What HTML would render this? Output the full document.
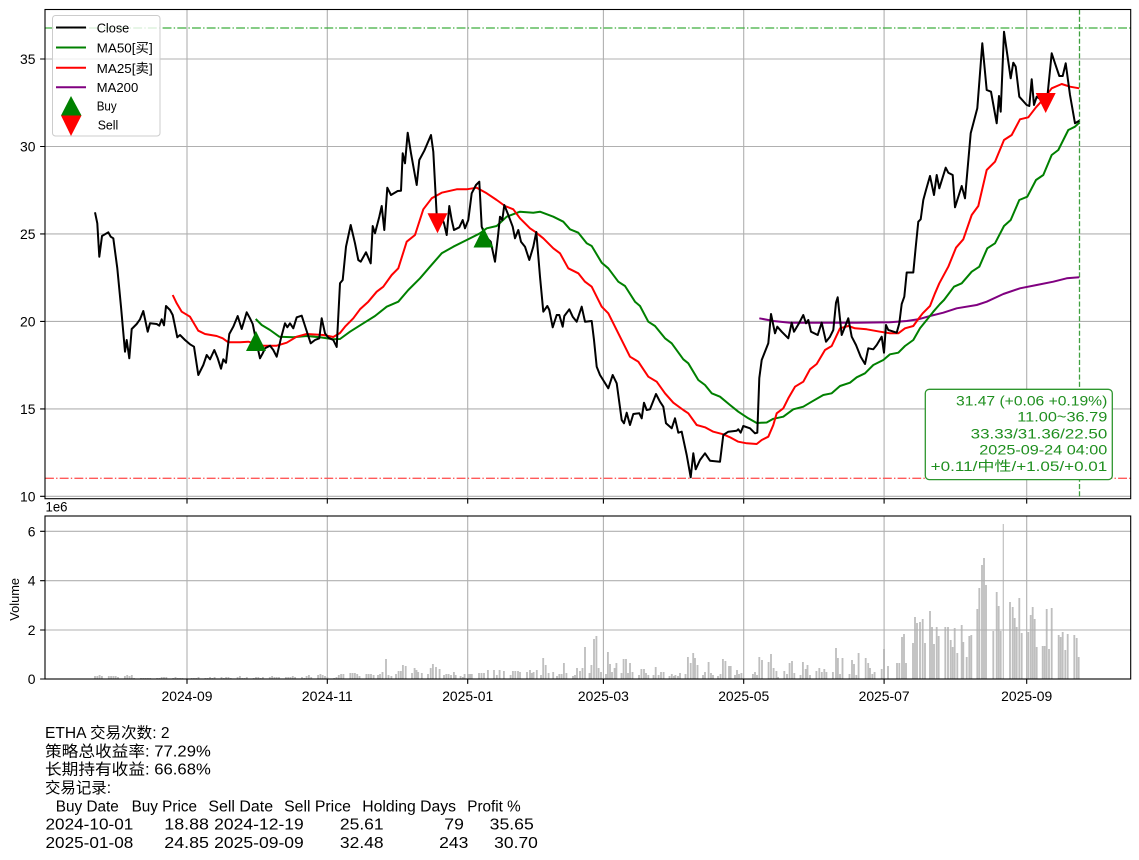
<!DOCTYPE html>
<html><head><meta charset="utf-8"><style>
html,body{margin:0;padding:0;background:#fff;}
svg{display:block;}
text{font-family:"Liberation Sans","Noto Sans CJK SC",sans-serif;fill:#000;}
</style></head><body>
<svg width="1139" height="860" viewBox="0 0 1139 860" xmlns="http://www.w3.org/2000/svg">
<rect width="1139" height="860" fill="#fff"/>

<!-- ===== TOP AXES ===== -->
<g stroke="#b0b0b0" stroke-width="1.1" fill="none">
<path d="M187,9.5V498.7M327.3,9.5V498.7M467.7,9.5V498.7M603.4,9.5V498.7M743.7,9.5V498.7M884.1,9.5V498.7M1026.7,9.5V498.7"/>
<path d="M45,496.3H1130.7M45,408.9H1130.7M45,321.4H1130.7M45,233.9H1130.7M45,146.5H1130.7M45,59H1130.7"/>
</g>

<!-- reference lines -->
<line x1="45" y1="28" x2="1130.7" y2="28" stroke="#3fae3f" stroke-width="1.3" stroke-dasharray="8.9 2.2 1.4 2.2"/>
<line x1="45" y1="478.3" x2="1130.7" y2="478.3" stroke="#ff5a5a" stroke-width="1.3" stroke-dasharray="8.9 2.2 1.4 2.2"/>
<line x1="1079.5" y1="9.5" x2="1079.5" y2="498.7" stroke="#3fa03f" stroke-width="1.3" stroke-dasharray="5.1 2.2"/>

<g fill="none" stroke-width="2" stroke-linejoin="round" stroke-linecap="butt">
<!-- MA200 -->
<polyline stroke="#800080" points="759.3,318.3 773.3,321 790,322.7 823.3,322.7 856.7,322.7 890,322.3 906.7,321 918.3,319.3 930,316 943.3,312.7 956.7,308.3 976.7,305 986.7,301.7 1003.3,294 1020,288.3 1036.7,285 1053.3,281.7 1066.7,278.3 1079.3,277.3"/>
<!-- MA50 -->
<polyline stroke="#008000" points="255.7,319 261.7,325 270,330 279.3,336.7 293.3,337.3 306.7,336 320,337.3 333.3,339.3 340,339 350,331.7 363.3,323.3 375,316 386.7,306.7 398.3,301.7 408.3,290 420,278.3 430,266.7 441.7,253.3 453.3,246.7 466.7,240 480,233.3 486.7,228.3 496.7,226 506.7,216.7 520,211.7 533.3,212.7 540,211.7 553.3,216.7 563.3,221.7 570,229.3 578.3,232.7 586.7,243.3 591.7,246 601.7,262.7 608.3,268.3 618.3,281.7 625,286 635,301.7 640,306 648.3,321.7 655,326 665,338.3 671.7,343.3 683.3,359.3 688.3,363.3 698.3,380 705,385 711.7,393.3 720,396.7 730,405 738.3,411.7 748.3,418.3 756.7,423 766.7,422.5 773.3,418.8 783.3,416.7 793.3,409.3 803.3,406.7 811.7,401.7 823.3,395 831.7,393.3 840,386 850,382.7 856.7,377.3 865,373.3 873.3,365 883.3,360 890,354.3 898.3,352.7 905,346 913.3,340 920,328.3 926.7,320 933.3,311.7 940,304 944,300 954,286.7 961.7,283.3 971.7,271.7 979.3,266.7 987.3,248.3 995,243.3 1004,226 1010.7,220 1019.3,200 1027.3,196.7 1036,180 1043.3,175 1051.7,155 1058.3,150 1068.3,130 1075,126.7 1079.3,122.7"/>
<!-- MA25 -->
<polyline stroke="#ff0000" points="172.7,295 176.7,303.3 181.7,311.7 190,316.7 198.3,330.7 205,334 216.7,336 222.7,338.3 228.3,342.3 240,342.3 248.3,341.7 263.3,345.7 276.7,345.7 286.7,342.7 296.7,336.7 306.7,334 323.3,335 333.3,337 340,333 345,326.7 353.3,318.3 360,309.3 368.3,301.7 376.7,291.7 383.3,286.7 391.7,275 398.3,268.3 406.7,241.7 415,235 423.3,209.3 431.7,198.3 441.7,192.7 456.7,189.3 466.7,189.3 476.7,187.7 486.7,193.3 496.7,200 505,206 513.3,209.3 520,218.3 530,228.3 535,231.7 543.3,238.3 553.3,248.3 560,253.3 568.3,268.3 578.3,273.3 585,281.7 591.7,286.7 601.7,306.7 608.3,313.3 618.3,333.3 630,356.7 638.3,361.7 648.3,376.7 656.7,381.7 665,393.3 673.3,402.7 683.3,410 688.3,413.3 696.7,425 705,427.3 713.3,431.7 723.3,434.3 730,437.3 738.3,441.7 746.7,443.3 756.7,444 761.7,440 768.3,436.7 773.3,425 776.7,413.3 783.3,408.3 788.3,398.3 795,386.7 803.3,381.7 810,369.3 816.7,364 825,350 831.7,346 840,328.3 848.3,326 855,328.3 866.7,329.3 880,331.7 890,333.3 898.3,333.3 905,328.3 913.3,326 918.3,319 922.7,313.3 930,306 935,293.3 939.3,283.3 948.3,266.7 956,247.7 963.3,239.3 971.7,215 978.3,206 986.7,170 995,161.7 1004,140 1011.7,135 1020,119.3 1028.3,117.3 1036,107.3 1043.3,99.3 1051.7,88.3 1061.7,84 1070,86.7 1079.3,88.3"/>
<!-- Close -->
<polyline stroke="#000" points="95,212.3 97.3,223.3 99.3,256.7 102,236 108.3,232.3 110.7,236.7 113.3,238.3 117.3,268.3 121,306.7 125,351.7 126.7,340 129.3,358.3 131.7,329 136.7,324 140,319.3 143.3,311 147.7,331.7 150,323.3 156.7,324 159.3,325.7 161.7,319.3 164,325.3 166,306 170,310 172.7,315 177.3,337.3 180,335 185,340 190,344.3 194,346.7 198.3,375 203.3,365 206.7,355 210,359.3 214.3,350 217.7,358.3 221,368.7 223.3,359.3 226,362.7 229.3,334 233.3,326.7 237.7,316 241.7,329 246.7,312.3 250,318.3 252.7,324 256.7,343.3 260,358.3 262.7,353.3 265,348.3 270,345.7 273.3,350 276.7,356.7 280.7,339.3 285,323.3 287.3,327.3 290,323.3 293.3,328.3 296.7,317.3 301.7,315.7 306,329 310.7,343.3 315,340 319.3,338.3 321.7,318.3 325,333.3 328.3,337.7 333.3,340 336.7,347 340,283.3 342.7,280 346,246.7 350.7,225 355,243.3 358.3,260 360.7,261.7 366,252.3 370.7,263.3 372.7,226 375,233.3 379.3,216.7 381.7,206 384.3,230 387.3,187.7 391,195 397.7,191 401,190.7 402.7,153.3 405,163.3 407.7,132.7 411,153.3 416.7,185 419.3,160 424.3,150.7 431,135 433.3,151.7 436.7,215 438.7,220 440.7,215 444,223.3 446.7,235 449.3,206 451.7,220 454,230 459.3,227.3 462.7,220 465,228.3 468.3,220 471.7,193.3 476,185 479.3,181.7 481.7,226.7 485.7,236.7 490.7,241.7 495,261.7 498.3,233.3 500,216.7 502.3,220 504.3,205 508.3,215 512.7,226.7 515,238.3 518.3,230 521,241.7 525,246.7 529.3,260 533.3,246.7 536.3,232 540,276.7 543.3,311.7 547.3,306 549.3,310 552.7,327.3 556.7,315 559.3,315 562.7,326.7 564.3,316 569.3,309.3 572.7,316.7 576.7,321.7 581.7,306.7 585,321.7 591.7,321 594,340 596.7,366.7 600,375 608.3,388.3 612.7,375 616.7,383.3 621.7,420 624,423.3 626.7,412.7 630,425 633.3,414 639.3,413.3 641.7,418.3 644,402.7 646.7,410 650,409.3 656,394 660,401.7 663.3,406.7 666,423.3 671.7,428.3 675,418.3 678.3,432.7 681.7,431.7 686.7,455 690.7,477.3 693.3,453.3 695.7,469.3 700,460 705,453.3 710,460.7 720,461.7 723.3,435 728.3,431.7 736.7,430.7 738.3,429.3 740.7,432.7 743.3,426 750,428.3 755,433.3 757.3,432.7 759.3,378 761.7,360 768.3,343.3 771,314 775,333.3 777.3,326.7 781.7,331.7 788.3,338.3 791.7,322.7 794,331.7 799.3,322.7 803.3,315 806,323.3 808.3,320 811,331.7 817.7,335 821.7,322.7 826,341.7 830,336.7 833.3,330 836,302.7 837.7,297.3 841.7,335 845,326.7 848.3,318.3 851.7,336.7 856,345 860.7,356.7 865,364 868.3,348.3 873.3,349.3 876.7,345 881.7,336.7 884,352.7 886,325 888.3,330 896.7,332.7 899.3,323.3 901.7,304 904.3,296.7 906.7,272.5 913.3,272.5 915.7,247.3 918.3,221.7 920.7,219.3 923.3,200 926,190 930,176 934,195 936.7,175 939.3,188.3 945.7,167.7 948.3,172.7 952.7,175 955,207.3 961.7,186 965,198.3 970.7,133.3 977.3,108.3 982.3,43.3 986.7,90 991,91.7 996.7,123.3 999,96 1000.7,111.7 1004,31.7 1010.7,78.3 1013.3,62.7 1015.7,66.7 1019.3,96.7 1026.7,105 1029.3,106 1031.7,79.3 1034,105 1036.7,96.7 1041.7,100 1046.7,103.3 1051.7,53.3 1055,63.3 1059.3,76 1062.7,76 1065.7,63.3 1070,95 1075,123.3 1079.3,120.8"/>
</g>

<!-- markers -->
<polygon fill="#008000" points="256,331 246,351 266,351"/>
<polygon fill="#008000" points="483.5,227.5 473.5,247.5 493.5,247.5"/>
<polygon fill="#ff0000" points="427.5,213.3 447.5,213.3 437.5,233.3"/>
<polygon fill="#ff0000" points="1035.7,93 1055.7,93 1045.7,113"/>

<!-- legend -->
<rect x="52.5" y="15.5" width="107.5" height="120.5" rx="3" ry="3" fill="#fff" fill-opacity="0.8" stroke="#cccccc" stroke-width="1"/>
<g stroke-width="2">
<line x1="56" y1="27.5" x2="86" y2="27.5" stroke="#000"/>
<line x1="56" y1="47.5" x2="86" y2="47.5" stroke="#008000"/>
<line x1="56" y1="67.7" x2="86" y2="67.7" stroke="#ff0000"/>
<line x1="56" y1="87.3" x2="86" y2="87.3" stroke="#800080"/>
</g>
<polygon fill="#008000" points="71,96 61,115.5 81.5,115.5"/>
<polygon fill="#ff0000" points="61,115.5 81.5,115.5 71,136"/>
<g font-size="13">
<text x="96.7" y="32.3" textLength="32.6" lengthAdjust="spacingAndGlyphs">Close</text>
<text x="96.7" y="52.4" textLength="56" lengthAdjust="spacingAndGlyphs">MA50[买]</text>
<text x="96.7" y="73" textLength="56" lengthAdjust="spacingAndGlyphs">MA25[卖]</text>
<text x="96.7" y="92.2" textLength="41.6" lengthAdjust="spacingAndGlyphs">MA200</text>
<text x="96.7" y="110.3" textLength="20" lengthAdjust="spacingAndGlyphs">Buy</text>
<text x="97.7" y="129.3" textLength="20.6" lengthAdjust="spacingAndGlyphs">Sell</text>
</g>

<!-- info box -->
<rect x="925.3" y="389.3" width="187" height="90.3" rx="4" ry="4" fill="#fff" stroke="#2e962e" stroke-width="1.3"/>
<g font-size="13.9" style="fill:#1f8f1f">
<text x="956" y="405.7" textLength="151.3" lengthAdjust="spacingAndGlyphs" style="fill:#1f8f1f">31.47 (+0.06 +0.19%)</text>
<text x="1017.3" y="421.7" textLength="90" lengthAdjust="spacingAndGlyphs" style="fill:#1f8f1f">11.00~36.79</text>
<text x="970.7" y="438.3" textLength="136.6" lengthAdjust="spacingAndGlyphs" style="fill:#1f8f1f">33.33/31.36/22.50</text>
<text x="979.3" y="454.3" textLength="128" lengthAdjust="spacingAndGlyphs" style="fill:#1f8f1f">2025-09-24 04:00</text>
<text x="930.7" y="471" textLength="176.6" lengthAdjust="spacingAndGlyphs" style="fill:#1f8f1f">+0.11/中性/+1.05/+0.01</text>
</g>

<!-- top spines & ticks -->
<rect x="45" y="9.5" width="1085.7" height="489.2" fill="none" stroke="#000" stroke-width="1.1"/>
<path d="M187,498.7v4.9M327.3,498.7v4.9M467.7,498.7v4.9M603.4,498.7v4.9M743.7,498.7v4.9M884.1,498.7v4.9M1026.7,498.7v4.9M40.1,496.3H45M40.1,408.9H45M40.1,321.4H45M40.1,233.9H45M40.1,146.5H45M40.1,59H45" stroke="#000" stroke-width="1.1"/>
<g font-size="13.9" text-anchor="end">
<text x="35.5" y="501.3">10</text>
<text x="35.5" y="413.9">15</text>
<text x="35.5" y="326.4">20</text>
<text x="35.5" y="238.9">25</text>
<text x="35.5" y="151.5">30</text>
<text x="35.5" y="64">35</text>
</g>

<!-- ===== VOLUME AXES ===== -->
<path stroke="#bfbfbf" stroke-width="1.84" fill="none" d="M95,679v-3M97.3,679v-3M99.6,679v-4M101.9,679v-3M108.8,679v-3M111.1,679v-3M113.4,679v-3M115.7,679v-3M118,679v-2M124.9,679v-3M127.2,679v-4M129.5,679v-3M131.8,679v-4M134.1,679v-1M141,679v-1M143.3,679v-1M145.6,679v-1M147.9,679v-1M150.2,679v-1M157.1,679v-1M159.4,679v-1M161.7,679v-2M164,679v-2M166.3,679v-2M173.2,679v-1M175.5,679v-2M177.8,679v-1M180.1,679v-1M182.4,679v-1M191.6,679v-1M193.9,679v-1M196.2,679v-1M198.5,679v-2M205.4,679v-1M207.7,679v-1M210,679v-2M212.3,679v-1M214.6,679v-2M221.5,679v-2M223.8,679v-1M226.1,679v-2M228.4,679v-2M230.7,679v-1M237.6,679v-2M239.9,679v-3M242.2,679v-1M244.5,679v-1M246.8,679v-2M253.7,679v-1M256,679v-2M258.3,679v-2M260.6,679v-1M262.9,679v-2M269.8,679v-2M272.1,679v-3M274.4,679v-2M276.7,679v-2M279,679v-2M285.9,679v-2M288.2,679v-2M290.5,679v-2M292.8,679v-3M295.1,679v-2M302,679v-2M304.3,679v-1M306.6,679v-3M308.9,679v-4M311.2,679v-2M318.1,679v-4M320.4,679v-5M322.7,679v-4M325,679v-3M327.3,679v-2M334.2,679v-1M336.5,679v-2M338.8,679v-4M341.1,679v-5M343.4,679v-5M350.3,679v-6M352.6,679v-6M354.9,679v-6M357.2,679v-5M359.5,679v-3M366.4,679v-5M368.7,679v-5M371,679v-5M373.6,679v-4M378,679v-4M380,679v-5M382.5,679v-7M386,679v-20M388.5,679v-4M391.4,679v-3M396,679v-5M398.6,679v-8M400.9,679v-8M402.9,679v-14M405.7,679v-13M412,679v-6M414.6,679v-11M416.5,679v-9M418.2,679v-7M421.8,679v-6M428,679v-5M430.7,679v-11M432.9,679v-15M436,679v-12M439.6,679v-10M444,679v-4M446.3,679v-5M448.6,679v-5M451,679v-4M453.9,679v-7M455.7,679v-4M460.6,679v-3M462.9,679v-2M464.6,679v-5M468,679v-5M470,679v-5M471.8,679v-5M479,679v-6M481.5,679v-6M484,679v-6M487.9,679v-9M494,679v-9M496.8,679v-4M499.6,679v-9M503.9,679v-8M510.6,679v-4M512.9,679v-8M515.3,679v-8M518,679v-8M520,679v-7M527,679v-7M530,679v-9M531.8,679v-6M533.6,679v-7M536.8,679v-9M541,679v-4M543.2,679v-21M545.7,679v-14M548.6,679v-6M553.2,679v-7M557,679v-3M559.3,679v-5M561.6,679v-5M563.9,679v-16M566.4,679v-6M573,679v-3M575,679v-4M577,679v-11M580,679v-8M582.5,679v-11M585,679v-32M589.5,679v-6M591.4,679v-14M594,679v-40M596.4,679v-43M598.6,679v-11M601,679v-7M606,679v-5M607.9,679v-27M610,679v-15M612,679v-7M614.6,679v-11M616.4,679v-16M621.5,679v-6M623.6,679v-20M626,679v-20M628,679v-6M630,679v-16M632.5,679v-7M639,679v-4M641.4,679v-10M644,679v-10M646,679v-6M648.3,679v-4M653.5,679v-4M655.7,679v-12M658.6,679v-4M661,679v-7M663.6,679v-7M669.5,679v-3M671.8,679v-5M674,679v-3M675.4,679v-4M678,679v-3M680,679v-6M685.5,679v-5M687.9,679v-22M690.7,679v-16M693.2,679v-26M695,679v-21M697.5,679v-14M703,679v-4M705,679v-7M708.6,679v-17M711,679v-6M713,679v-4M718,679v-3M720.5,679v-5M722.9,679v-20M725.4,679v-18M729,679v-13M730.7,679v-13M735,679v-4M737,679v-9M739,679v-5M741.4,679v-6M752.9,679v-5M755,679v-7M757,679v-4M759.3,679v-22M762,679v-19M768.6,679v-17M771,679v-25M773.6,679v-11M776.4,679v-8M778,679v-2M784.3,679v-8M787,679v-5M789.6,679v-16M792,679v-18M794.3,679v-6M800.5,679v-4M802.9,679v-17M805.7,679v-10M807.5,679v-14M810,679v-4M816.4,679v-8M819.3,679v-11M821.8,679v-7M824.3,679v-10M826.4,679v-7M832.9,679v-7M836,679v-31M837.9,679v-21M840,679v-5M842.5,679v-21M849.5,679v-5M852,679v-19M854,679v-15M856.3,679v-4M858.6,679v-26M865.7,679v-21M868.2,679v-16M870,679v-11M872.3,679v-5M874.6,679v-7M881.7,679v-10M884,679v-30M888,679v-13M897,679v-16M899.3,679v-16M902,679v-42M904,679v-45M906,679v-16M913,679v-36M915,679v-62M917,679v-56M920,679v-57M922.7,679v-60M925,679v-36M930,679v-68M932,679v-52M934,679v-35M936.7,679v-52M938.7,679v-43M945.3,679v-52M948,679v-52M950.7,679v-39M952.7,679v-32M954.7,679v-51M957.3,679v-26M961.7,679v-54M963.3,679v-37M966.7,679v-22M969.3,679v-43M971.3,679v-44M977.3,679v-70M979.3,679v-91M982,679v-114M984,679v-121M986,679v-94M993.3,679v-48M996.7,679v-87M998.7,679v-73M1000.7,679v-48M1010,679v-77M1012.7,679v-72M1014.7,679v-61M1016.7,679v-52M1019.3,679v-81M1021.7,679v-46M1028.3,679v-47M1030.7,679v-64M1032.7,679v-72M1034.7,679v-60M1036.7,679v-32M1042.7,679v-33M1044.7,679v-33M1046.7,679v-70M1049,679v-30M1051.7,679v-71M1058.7,679v-44M1060.7,679v-42M1062.7,679v-47M1065.3,679v-29M1067.7,679v-45M1074.3,679v-44M1076.7,679v-41M1078.7,679v-22"/>
<line x1="1003.3" y1="679" x2="1003.3" y2="524" stroke="#bfbfbf" stroke-width="1.2"/>

<g stroke="#b0b0b0" stroke-width="1.1" fill="none">
<path d="M187,516V679M327.3,516V679M467.7,516V679M603.4,516V679M743.7,516V679M884.1,516V679M1026.7,516V679"/>
<path d="M45,630H1130.7M45,580.7H1130.7M45,531.3H1130.7"/>
</g>
<rect x="45" y="516" width="1085.7" height="163" fill="none" stroke="#000" stroke-width="1.1"/>
<path d="M187,679v4.9M327.3,679v4.9M467.7,679v4.9M603.4,679v4.9M743.7,679v4.9M884.1,679v4.9M1026.7,679v4.9M40.1,679H45M40.1,630H45M40.1,580.7H45M40.1,531.3H45" stroke="#000" stroke-width="1.1"/>
<g font-size="13.9" text-anchor="end">
<text x="35.5" y="684">0</text>
<text x="35.5" y="635">2</text>
<text x="35.5" y="585.7">4</text>
<text x="35.5" y="536.3">6</text>
</g>
<text x="45.5" y="511.7" font-size="13.9" textLength="22" lengthAdjust="spacingAndGlyphs">1e6</text>
<text transform="translate(19,599.4) rotate(-90)" x="-21.3" y="0" font-size="12.5" textLength="42.7" lengthAdjust="spacingAndGlyphs">Volume</text>
<g font-size="13.9">
<text x="161.5" y="701" textLength="51" lengthAdjust="spacingAndGlyphs">2024-09</text>
<text x="301.8" y="701" textLength="51" lengthAdjust="spacingAndGlyphs">2024-11</text>
<text x="442.2" y="701" textLength="51" lengthAdjust="spacingAndGlyphs">2025-01</text>
<text x="577.9" y="701" textLength="51" lengthAdjust="spacingAndGlyphs">2025-03</text>
<text x="718.2" y="701" textLength="51" lengthAdjust="spacingAndGlyphs">2025-05</text>
<text x="858.6" y="701" textLength="51" lengthAdjust="spacingAndGlyphs">2025-07</text>
<text x="1001.2" y="701" textLength="51" lengthAdjust="spacingAndGlyphs">2025-09</text>
</g>

<!-- ===== SUMMARY TEXT ===== -->
<g font-size="15.3">
<text x="45" y="738" textLength="124.5" lengthAdjust="spacingAndGlyphs">ETHA 交易次数: 2</text>
<text x="45" y="756.3" textLength="165.8" lengthAdjust="spacingAndGlyphs">策略总收益率: 77.29%</text>
<text x="45" y="774.7" textLength="165.8" lengthAdjust="spacingAndGlyphs">长期持有收益: 66.68%</text>
<text x="45" y="793" textLength="66" lengthAdjust="spacingAndGlyphs">交易记录:</text>

<text x="55.8" y="811.3" textLength="63" lengthAdjust="spacingAndGlyphs">Buy Date</text>
<text x="131.6" y="811.3" textLength="65.4" lengthAdjust="spacingAndGlyphs">Buy Price</text>
<text x="208.4" y="811.3" textLength="64.7" lengthAdjust="spacingAndGlyphs">Sell Date</text>
<text x="284.1" y="811.3" textLength="66.8" lengthAdjust="spacingAndGlyphs">Sell Price</text>
<text x="362.3" y="811.3" textLength="93.7" lengthAdjust="spacingAndGlyphs">Holding Days</text>
<text x="467.3" y="811.3" textLength="53.4" lengthAdjust="spacingAndGlyphs">Profit %</text>

<text x="45.5" y="829.7" textLength="87.8" lengthAdjust="spacingAndGlyphs">2024-10-01</text>
<text x="164.3" y="829.7" textLength="44.7" lengthAdjust="spacingAndGlyphs">18.88</text>
<text x="214.2" y="829.7" textLength="89.6" lengthAdjust="spacingAndGlyphs">2024-12-19</text>
<text x="339.9" y="829.7" textLength="43.7" lengthAdjust="spacingAndGlyphs">25.61</text>
<text x="444.3" y="829.7" textLength="19.6" lengthAdjust="spacingAndGlyphs">79</text>
<text x="489.7" y="829.7" textLength="44.1" lengthAdjust="spacingAndGlyphs">35.65</text>

<text x="45.5" y="848" textLength="87.8" lengthAdjust="spacingAndGlyphs">2025-01-08</text>
<text x="164.3" y="848" textLength="44.7" lengthAdjust="spacingAndGlyphs">24.85</text>
<text x="214.2" y="848" textLength="89.6" lengthAdjust="spacingAndGlyphs">2025-09-09</text>
<text x="339.9" y="848" textLength="43.7" lengthAdjust="spacingAndGlyphs">32.48</text>
<text x="439.1" y="848" textLength="29.3" lengthAdjust="spacingAndGlyphs">243</text>
<text x="494.2" y="848" textLength="43.7" lengthAdjust="spacingAndGlyphs">30.70</text>
</g>
</svg>
</body></html>
